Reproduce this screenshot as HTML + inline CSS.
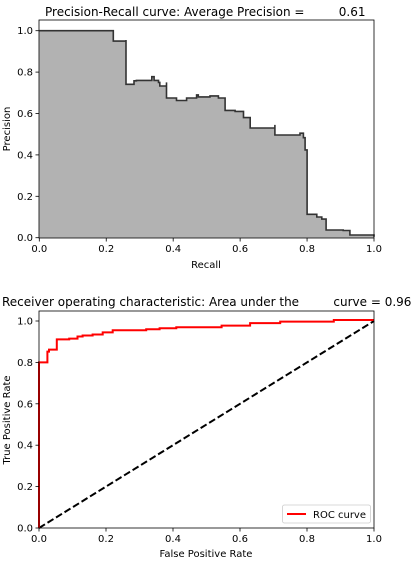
<!DOCTYPE html>
<html><head><meta charset="utf-8"><style>
body{margin:0;background:#fff}
svg{display:block;font-family:"DejaVu Sans","Liberation Sans",sans-serif;font-size:10px}
text{white-space:pre}
</style></head><body>
<svg id="c" width="420" height="564" viewBox="0 0 420 564" xmlns="http://www.w3.org/2000/svg"></svg>
<script>
// PR curve data (recall, precision step points)
const prRecall = [0,0.221,0.221,0.259,0.259,0.283,0.29,0.336,0.343,0.356,0.36,0.38,0.38,0.41,0.44,0.47,0.475,0.51,0.535,0.555,0.555,0.585,0.61,0.63,0.63,0.704,0.704,0.779,0.789,0.794,0.80,0.80,0.829,0.844,0.857,0.908,0.928,1.0];
const prPrecision = [1.0,1.0,0.95,0.955,0.741,0.758,0.760,0.778,0.76,0.75,0.733,0.75,0.675,0.663,0.675,0.69,0.68,0.685,0.675,0.665,0.615,0.61,0.58,0.58,0.53,0.545,0.496,0.505,0.483,0.424,0.41,0.113,0.10,0.09,0.037,0.035,0.013,0.005];
// ROC curve data
const rocFpr = [0,0,0.018,0.025,0.03,0.053,0.09,0.115,0.13,0.16,0.19,0.22,0.32,0.36,0.41,0.545,0.63,0.72,0.88,1.0];
const rocTpr = [0,0.80,0.80,0.852,0.862,0.911,0.915,0.925,0.93,0.935,0.945,0.955,0.96,0.965,0.97,0.978,0.99,0.997,1.005,1.005];
const ticks = [0,0.2,0.4,0.6,0.8,1.0];
const tickLabels = ["0.0","0.2","0.4","0.6","0.8","1.0"];

const svg = document.getElementById('c');
const NS = 'http://www.w3.org/2000/svg';
function mk(tag, attrs, text){const e=document.createElementNS(NS,tag);for(const k in attrs)e.setAttribute(k,attrs[k]);if(text!==undefined)e.textContent=text;svg.appendChild(e);return e;}

const T = {x0:39.3,x1:374,y0:237.7,y1:30.7};
const tx = v => T.x0 + v*(T.x1-T.x0);
const ty = v => T.y0 - v*(T.y0-T.y1);
const B = {x0:39,x1:374,y0:528,k:207};
const bx = v => B.x0 + v*(B.x1-B.x0);
const by = v => B.y0 - v*B.k;

let d = 'M'+tx(prRecall[0]).toFixed(1)+' '+ty(prPrecision[0]).toFixed(1);
for(let i=1;i<prRecall.length;i++){
  d += 'L'+tx(prRecall[i]).toFixed(1)+' '+ty(prPrecision[i-1]).toFixed(1);
  d += 'L'+tx(prRecall[i]).toFixed(1)+' '+ty(prPrecision[i]).toFixed(1);
}
let e = mk('path',{d:d+'L'+tx(1)+' '+ty(0)+'L'+tx(0)+' '+ty(0)+'Z',fill:'#b2b2b2'});


e = mk('path',{d:d,fill:'none',stroke:'#333',"stroke-width":1.6});



e = mk('rect',{x:39,y:20,width:335,height:218,fill:'none',stroke:'#000','stroke-width':0.8});


ticks.forEach((t,i)=>{
  mk('line',{x1:tx(t),x2:tx(t),y1:238,y2:241.5,stroke:'#000','stroke-width':0.8});
  e = mk('text',{x:tx(t),y:252,'text-anchor':'middle'},tickLabels[i]);
  
  
  mk('line',{x1:35.5,x2:39,y1:ty(t),y2:ty(t),stroke:'#000','stroke-width':0.8});
  e = mk('text',{x:33,y:ty(t)+3.5,'text-anchor':'end'},tickLabels[i]);
  
  
});
e = mk('text',{x:206,y:268,'text-anchor':'middle'},'Recall');


e = mk('text',{x:10,y:129,'text-anchor':'middle',transform:'rotate(-90 10 129)'},'Precision');


e = mk('text',{x:45,y:16,'font-size':'12px'},'Precision-Recall curve: Average Precision =         0.61');



e = mk('line',{x1:bx(0),y1:by(0),x2:bx(1),y2:by(1),stroke:'#000','stroke-width':2,'stroke-dasharray':'7,3'});


d = 'M'+bx(rocFpr[0]).toFixed(1)+' '+by(rocTpr[0]).toFixed(1);
for(let i=1;i<rocFpr.length;i++){
  d += 'L'+bx(rocFpr[i]).toFixed(1)+' '+by(rocTpr[i-1]).toFixed(1);
  d += 'L'+bx(rocFpr[i]).toFixed(1)+' '+by(rocTpr[i]).toFixed(1);
}
e = mk('path',{d:d,fill:'none',stroke:'#f00','stroke-width':2});


e = mk('rect',{x:39,y:311,width:335,height:217,fill:'none',stroke:'#000','stroke-width':0.8});


ticks.forEach((t,i)=>{
  mk('line',{x1:bx(t),x2:bx(t),y1:528,y2:531.5,stroke:'#000','stroke-width':0.8});
  e = mk('text',{x:bx(t),y:542,'text-anchor':'middle'},tickLabels[i]);
  
  
  mk('line',{x1:35.5,x2:39,y1:by(t),y2:by(t),stroke:'#000','stroke-width':0.8});
  e = mk('text',{x:33,y:by(t)+3.5,'text-anchor':'end'},tickLabels[i]);
  
  
});
e = mk('text',{x:206,y:557,'text-anchor':'middle'},'False Positive Rate');


e = mk('text',{x:10,y:420,'text-anchor':'middle',transform:'rotate(-90 10 420)'},'True Positive Rate');


e = mk('text',{x:2,y:306,'font-size':'12px'},'Receiver operating characteristic: Area under the         curve = 0.96');


e = mk('rect',{x:282.5,y:505,width:88,height:18,rx:2,fill:'#fff',stroke:'#ccc','stroke-width':0.8});


mk('line',{x1:287,x2:306,y1:514,y2:514,stroke:'#f00','stroke-width':2});
e = mk('text',{x:313,y:518},'ROC curve');


</script>
</body></html>
